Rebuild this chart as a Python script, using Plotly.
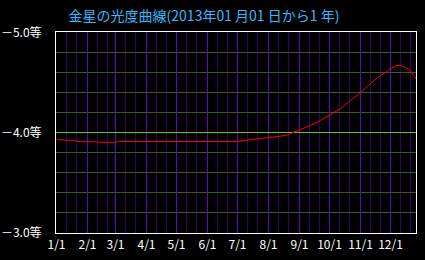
import plotly.graph_objects as go

# Day offsets from 2013-01-01 and Venus magnitude
days = [0, 1, 13, 26, 56, 63, 180, 188, 201, 210, 218, 224, 229, 232, 234,
        244, 254, 264, 274, 284, 294, 304, 314, 324, 329, 334, 340, 344, 347,
        351, 354, 357, 360]
mags = [-3.94, -3.93, -3.92, -3.91, -3.90, -3.91, -3.91, -3.92, -3.93, -3.94,
        -3.95, -3.96, -3.97, -3.98, -3.99, -4.03, -4.07, -4.12, -4.18, -4.24,
        -4.32, -4.40, -4.49, -4.57, -4.60, -4.64, -4.67, -4.67, -4.66, -4.64,
        -4.62, -4.57, -4.53]

month_starts = [0, 31, 59, 90, 120, 151, 181, 212, 243, 273, 304, 334]
month_labels = ["1/1", "2/1", "3/1", "4/1", "5/1", "6/1", "7/1", "8/1",
                "9/1", "10/1", "11/1", "12/1"]
minor_days = [d + k for d in month_starts for k in (10, 20)]

y_ticks = [-5.0, -4.0, -3.0]
y_labels = ["－5.0等", "－4.0等", "－3.0等"]

title_text = "金星の光度曲線(2013年01 月01 日から1 年)"

FONT = "Noto Sans CJK JP"

fig = go.Figure()
fig.add_trace(go.Scatter(
    x=days, y=mags, mode="lines",
    line=dict(color="#ff0000", width=1),
    hoverinfo="skip", showlegend=False,
))

fig.update_layout(
    template="none",
    width=425, height=260,
    margin=dict(l=56, r=9, t=32, b=27, pad=0),
    paper_bgcolor="#000000", plot_bgcolor="#000000",
    title=dict(text=title_text, x=0.48, xanchor="center", y=1 - 16 / 260,
               yanchor="middle",
               font=dict(family=FONT, size=14, color="#33bbff")),
    font=dict(family=FONT, size=12, color="#ffffff"),
)

fig.update_xaxes(
    range=[-0.5, 359.5], tickmode="array", tickvals=month_starts,
    ticktext=month_labels,
    showgrid=True, gridcolor="#6600cc", gridwidth=1,
    minor=dict(tickmode="array", tickvals=minor_days, showgrid=True,
               gridcolor="#330066", gridwidth=1, ticks=""),
    showline=True, linecolor="#ffffff", linewidth=1, mirror=True,
    zeroline=False, ticks="", ticklabelstandoff=1,
    tickfont=dict(family=FONT, size=12, color="#ffffff"),
)
fig.update_yaxes(
    range=[-2.995, -5.005], tickmode="array", tickvals=y_ticks,
    ticktext=y_labels,
    showgrid=True, gridcolor="#66cc00", gridwidth=1,
    minor=dict(tickmode="linear", dtick=0.2, tick0=-5.0, showgrid=True,
               gridcolor="#336600", gridwidth=1, ticks=""),
    showline=True, linecolor="#ffffff", linewidth=1, mirror=True,
    zeroline=False, ticks="", ticklabelstandoff=11,
    tickfont=dict(family=FONT, size=12, color="#ffffff"),
)

fig.write_html("out.html")
